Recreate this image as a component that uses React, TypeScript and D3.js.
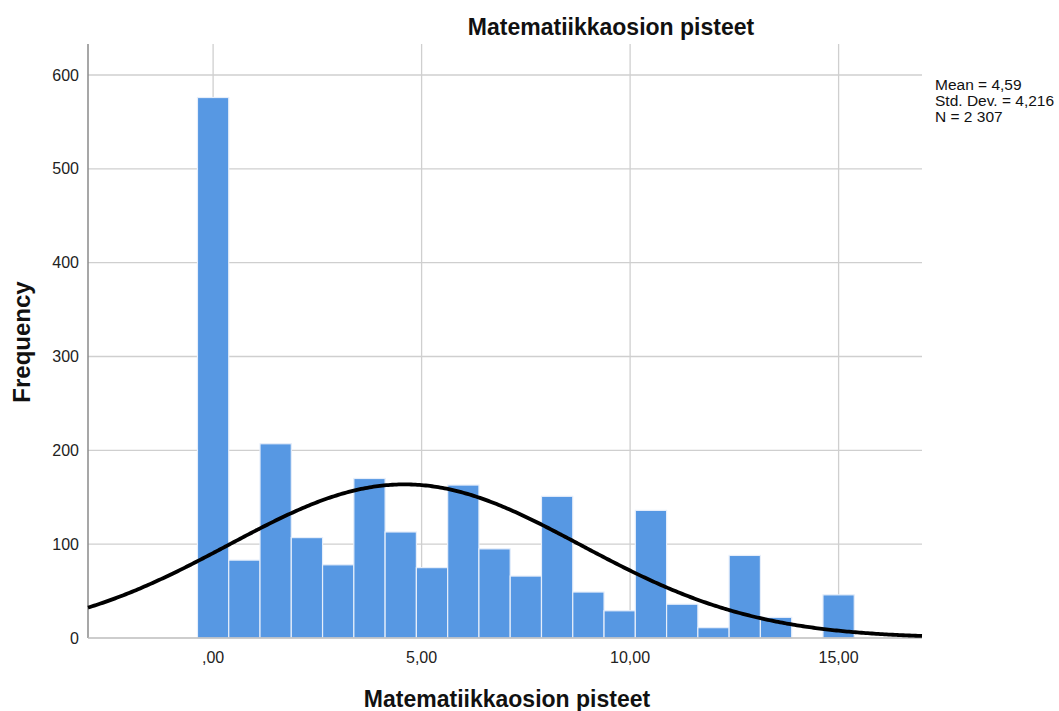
import React from "react";
import * as d3 from "d3";

// Histogram bins: left edges and counts (bin width 0.75)
const binStarts = [-0.375, 0.375, 1.125, 1.875, 2.625, 3.375, 4.125, 4.875, 5.625, 6.375, 7.125, 7.875, 8.625, 9.375, 10.125, 10.875, 11.625, 12.375, 13.125, 13.875, 14.625];
const counts = [576, 83, 207, 107, 78, 170, 113, 75, 163, 95, 66, 151, 49, 29, 136, 36, 11, 88, 22, 0, 46];
const binWidth = 0.75;

const xTicks = [0, 5, 10, 15];
const xTickLabels = [",00", "5,00", "10,00", "15,00"];
const yTicks = [0, 100, 200, 300, 400, 500, 600];

const mean = 4.59;
const sd = 4.216;
const n = 2307;
const statLines = ["Mean = 4,59", "Std. Dev. = 4,216", "N = 2 307"];

const W = 1059;
const H = 711;
const left = 88;
const right = 922;
const top = 44;
const bottom = 638;

export default function App() {
  const x = d3.scaleLinear().domain([-3, 17]).range([left, right]);
  const y = d3.scaleLinear().domain([0, 600]).range([bottom, 75]);

  const curvePts = d3.range(-3, 17.001, 0.05).map((v) => {
    const pdf = Math.exp(-0.5 * ((v - mean) / sd) ** 2) / (sd * Math.sqrt(2 * Math.PI));
    return [v, n * binWidth * pdf] as [number, number];
  });
  const line = d3
    .line<[number, number]>()
    .x((d) => x(d[0]))
    .y((d) => y(d[1]))
    .curve(d3.curveBasis);

  const font = "Arial, 'Liberation Sans', sans-serif";

  return (
    <svg width={W} height={H} style={{ position: "absolute", left: 0, top: 0, background: "#fff" }} fontFamily={font}>
      {/* grid */}
      {yTicks.slice(1).map((t) => (
        <line key={"gy" + t} x1={left} x2={right} y1={y(t)} y2={y(t)} stroke="#cfcfcf" strokeWidth={1.3} />
      ))}
      {xTicks.map((t) => (
        <line key={"gx" + t} x1={x(t)} x2={x(t)} y1={top} y2={bottom} stroke="#cfcfcf" strokeWidth={1.3} />
      ))}
      {/* bars */}
      {binStarts.map((s, i) =>
        counts[i] > 0 ? (
          <rect
            key={"b" + i}
            x={x(s)}
            y={y(counts[i])}
            width={x(s + binWidth) - x(s)}
            height={y(0) - y(counts[i])}
            fill="#5798e3"
            stroke="#e6eefa"
            strokeWidth={1.2}
          />
        ) : null
      )}
      {/* axes */}
      <line x1={left} x2={left} y1={top} y2={bottom} stroke="#8a8a8a" strokeWidth={1.5} />
      <line x1={left} x2={right} y1={bottom} y2={bottom} stroke="#bdbdbd" strokeWidth={1.5} />
      {/* normal curve */}
      <path d={line(curvePts) ?? ""} fill="none" stroke="#000" strokeWidth={3.8} />
      {/* y tick labels */}
      {yTicks.map((t) => (
        <text key={"yl" + t} x={79} y={y(t)} dy="0.35em" textAnchor="end" fontSize={16} fill="#222">
          {t}
        </text>
      ))}
      {/* x tick labels */}
      {xTicks.map((t, i) => (
        <text key={"xl" + t} x={x(t)} y={663} textAnchor="middle" fontSize={16} fill="#222">
          {xTickLabels[i]}
        </text>
      ))}
      {/* stats */}
      {statLines.map((s, i) => (
        <text key={"st" + i} x={935} y={90 + i * 16} fontSize={15.5} fill="#111">
          {s}
        </text>
      ))}
      {/* titles */}
      <text x={611} y={35} textAnchor="middle" fontSize={23} fontWeight="bold" fill="#111">
        Matematiikkaosion pisteet
      </text>
      <text x={507} y={707} textAnchor="middle" fontSize={23} fontWeight="bold" fill="#111">
        Matematiikkaosion pisteet
      </text>
      <text transform={`translate(30,342) rotate(-90)`} textAnchor="middle" fontSize={24} fontWeight="bold" fill="#111">
        Frequency
      </text>
    </svg>
  );
}
